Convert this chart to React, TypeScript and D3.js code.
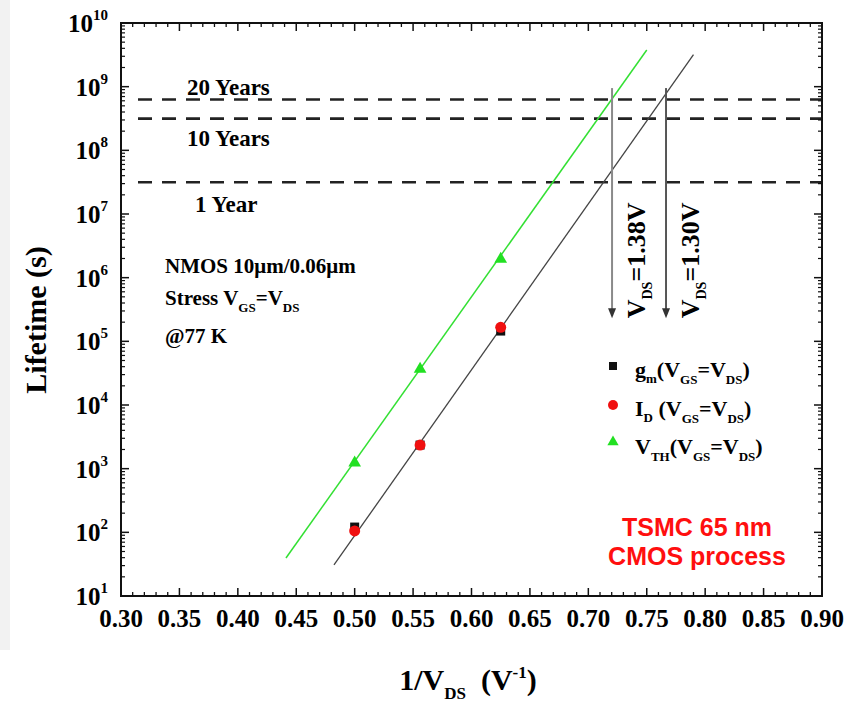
import React from "react";
import * as d3 from "d3";

// 1/VDS (V^-1) at which each stress was applied
const invVds = [0.5, 0.556, 0.625];
// lifetime (s) for each degradation criterion
const gmLifetime = [121, 2350, 1.45e5];
const idLifetime = [105, 2350, 1.66e5];
const vthLifetime = [1230, 3.67e4, 1.95e6];

// fitted lines, endpoints [1/VDS, lifetime]
const blackFit: [number, number][] = [[0.4823, 30.7], [0.79, 3.2e9]];
const greenFit: [number, number][] = [[0.4412, 39.5], [0.75, 3.77e9]];

// lifetime criteria
const criteria = [
  { label: "20 Years", value: 6.3e8 },
  { label: "10 Years", value: 3.15e8 },
  { label: "1 Year", value: 3.15e7 },
];

// extrapolated VDS arrows
const arrows = [
  { x: 0.7203, label: "1.38V", color: "#8a8a8a" },
  { x: 0.7665, label: "1.30V", color: "#555" },
];
const arrowTop = 9.5e8;
const arrowBottom = 2.3e5;

const xTicks = [0.3, 0.35, 0.4, 0.45, 0.5, 0.55, 0.6, 0.65, 0.7, 0.75, 0.8, 0.85, 0.9];
const yExponents = [1, 2, 3, 4, 5, 6, 7, 8, 9, 10];

const W = 849;
const H = 705;
const left = 121, right = 822, top = 23, bottom = 596;
const serif = "'Liberation Serif', 'Times New Roman', serif";
const sans = "'Liberation Sans', Arial, sans-serif";

export default function App() {
  const x = d3.scaleLinear().domain([0.3, 0.9]).range([left, right]);
  const y = d3.scaleLog().domain([10, 1e10]).range([bottom, top]);
  const line = d3.line<[number, number]>().x(d => x(d[0])).y(d => y(d[1]));

  const minorX = d3.range(30, 91).map(v => v / 100).filter(v => Math.round(v * 100) % 5 !== 0);
  const minorY: number[] = [];
  yExponents.slice(0, -1).forEach(e => {
    for (let m = 2; m <= 9; m++) minorY.push(m * Math.pow(10, e));
  });

  const triangle = d3.symbol().type(d3.symbolTriangle).size(70)();

  return (
    <svg width={W} height={H} style={{ display: "block", position: "absolute", left: 0, top: 0 }}
      fontFamily={serif} fontWeight="bold">
      <rect x={0} y={0} width={W} height={H} fill="#fff" />
      <rect x={0} y={0} width={10} height={650} fill="#f2f2f2" />

      {/* criteria lines */}
      {criteria.map(c => (
        <line key={c.label} x1={138} x2={right} y1={y(c.value)} y2={y(c.value)}
          stroke="#222" strokeWidth={2.6} strokeDasharray="14,10" />
      ))}
      <text x={187} y={95} fontSize={23}>20 Years</text>
      <text x={187} y={146} fontSize={23}>10 Years</text>
      <text x={195} y={212} fontSize={23}>1 Year</text>

      {/* fit lines */}
      <path d={line(greenFit) || ""} stroke="#33e033" strokeWidth={1.5} fill="none" />
      <path d={line(blackFit) || ""} stroke="#444" strokeWidth={1.3} fill="none" />

      {/* arrows */}
      {arrows.map(a => (
        <g key={a.label}>
          <line x1={x(a.x)} x2={x(a.x)} y1={y(arrowTop)} y2={y(arrowBottom) - 8}
            stroke={a.color} strokeWidth={2} />
          <path d={`M${x(a.x) - 4},${y(arrowBottom) - 10}L${x(a.x) + 4},${y(arrowBottom) - 10}L${x(a.x)},${y(arrowBottom)}Z`}
            fill="#333" />
          <text transform={`translate(${x(a.x) + 33},${y(arrowBottom)}) rotate(-90)`} fontSize={26}>
            V<tspan fontSize={14} dy={7}>DS</tspan><tspan dy={-7}>={a.label}</tspan>
          </text>
        </g>
      ))}

      {/* data points */}
      {invVds.map((v, i) => (
        <rect key={"g" + i} x={x(v) - 4.5} y={y(gmLifetime[i]) - 4.5} width={9} height={9} fill="#111" />
      ))}
      {invVds.map((v, i) => (
        <circle key={"i" + i} cx={x(v)} cy={y(idLifetime[i])} r={5.5} fill="#f01010" />
      ))}
      {invVds.map((v, i) => (
        <path key={"t" + i} d={triangle || ""} transform={`translate(${x(v)},${y(vthLifetime[i])})`} fill="#22e022" />
      ))}

      {/* annotation */}
      <text x={165} y={273} fontSize={21}>NMOS 10μm/0.06μm</text>
      <text x={165} y={305} fontSize={21}>
        Stress V<tspan fontSize={13} dy={7}>GS</tspan><tspan dy={-7}>=V</tspan><tspan fontSize={13} dy={7}>DS</tspan>
      </text>
      <text x={165} y={343} fontSize={21}>@77 K</text>

      {/* legend */}
      <rect x={609} y={362} width={8} height={8} fill="#111" />
      <text x={635} y={377} fontSize={22}>
        g<tspan fontSize={13} dy={6}>m</tspan><tspan dy={-6}>(V</tspan><tspan fontSize={13} dy={7}>GS</tspan><tspan dy={-7}>=V</tspan><tspan fontSize={13} dy={7}>DS</tspan><tspan dy={-7}>)</tspan>
      </text>
      <circle cx={613} cy={405} r={5} fill="#f01010" />
      <text x={635} y={416} fontSize={22}>
        I<tspan fontSize={13} dy={6}>D</tspan><tspan dy={-6}> (V</tspan><tspan fontSize={13} dy={7}>GS</tspan><tspan dy={-7}>=V</tspan><tspan fontSize={13} dy={7}>DS</tspan><tspan dy={-7}>)</tspan>
      </text>
      <path d={d3.symbol().type(d3.symbolTriangle).size(55)() || ""} transform="translate(613,442)" fill="#22e022" />
      <text x={635} y={454} fontSize={22}>
        V<tspan fontSize={13} dy={7}>TH</tspan><tspan dy={-7}>(V</tspan><tspan fontSize={13} dy={7}>GS</tspan><tspan dy={-7}>=V</tspan><tspan fontSize={13} dy={7}>DS</tspan><tspan dy={-7}>)</tspan>
      </text>

      <text x={697} y={536} fontSize={25} fontFamily={sans} fill="#ff0f0f" textAnchor="middle">TSMC 65 nm</text>
      <text x={697} y={565} fontSize={25} fontFamily={sans} fill="#ff0f0f" textAnchor="middle">CMOS process</text>

      {/* frame and ticks */}
      <rect x={left} y={top} width={right - left} height={bottom - top} fill="none" stroke="#111" strokeWidth={2} />
      {xTicks.map(t => (
        <g key={"xt" + t}>
          <line x1={x(t)} x2={x(t)} y1={bottom} y2={bottom - 8} stroke="#111" strokeWidth={1.5} />
          <line x1={x(t)} x2={x(t)} y1={top} y2={top + 8} stroke="#111" strokeWidth={1.5} />
          <text x={x(t)} y={627} fontSize={25} textAnchor="middle">{t.toFixed(2)}</text>
        </g>
      ))}
      {minorX.map(t => (
        <g key={"xm" + t}>
          <line x1={x(t)} x2={x(t)} y1={bottom} y2={bottom - 4} stroke="#111" strokeWidth={1.3} />
          <line x1={x(t)} x2={x(t)} y1={top} y2={top + 4} stroke="#111" strokeWidth={1.3} />
        </g>
      ))}
      {yExponents.map(e => (
        <g key={"yt" + e}>
          <line x1={left} x2={left + 8} y1={y(Math.pow(10, e))} y2={y(Math.pow(10, e))} stroke="#111" strokeWidth={1.5} />
          <line x1={right} x2={right - 8} y1={y(Math.pow(10, e))} y2={y(Math.pow(10, e))} stroke="#111" strokeWidth={1.5} />
          <text x={108} y={y(Math.pow(10, e)) + 9} fontSize={25} textAnchor="end">
            10<tspan fontSize={15} dy={-12}>{e}</tspan>
          </text>
        </g>
      ))}
      {minorY.map(v => (
        <g key={"ym" + v}>
          <line x1={left} x2={left + 4} y1={y(v)} y2={y(v)} stroke="#111" strokeWidth={1.2} />
          <line x1={right} x2={right - 4} y1={y(v)} y2={y(v)} stroke="#111" strokeWidth={1.2} />
        </g>
      ))}

      {/* axis titles */}
      <text transform="translate(46,320) rotate(-90)" fontSize={30} textAnchor="middle">Lifetime (s)</text>
      <text x={468} y={690} fontSize={30} textAnchor="middle">
        1/V<tspan fontSize={17} dy={9}>DS</tspan><tspan dy={-9}>{"\u00a0\u00a0(V"}</tspan><tspan fontSize={17} dy={-12}>-1</tspan><tspan dy={12}>)</tspan>
      </text>
    </svg>
  );
}
